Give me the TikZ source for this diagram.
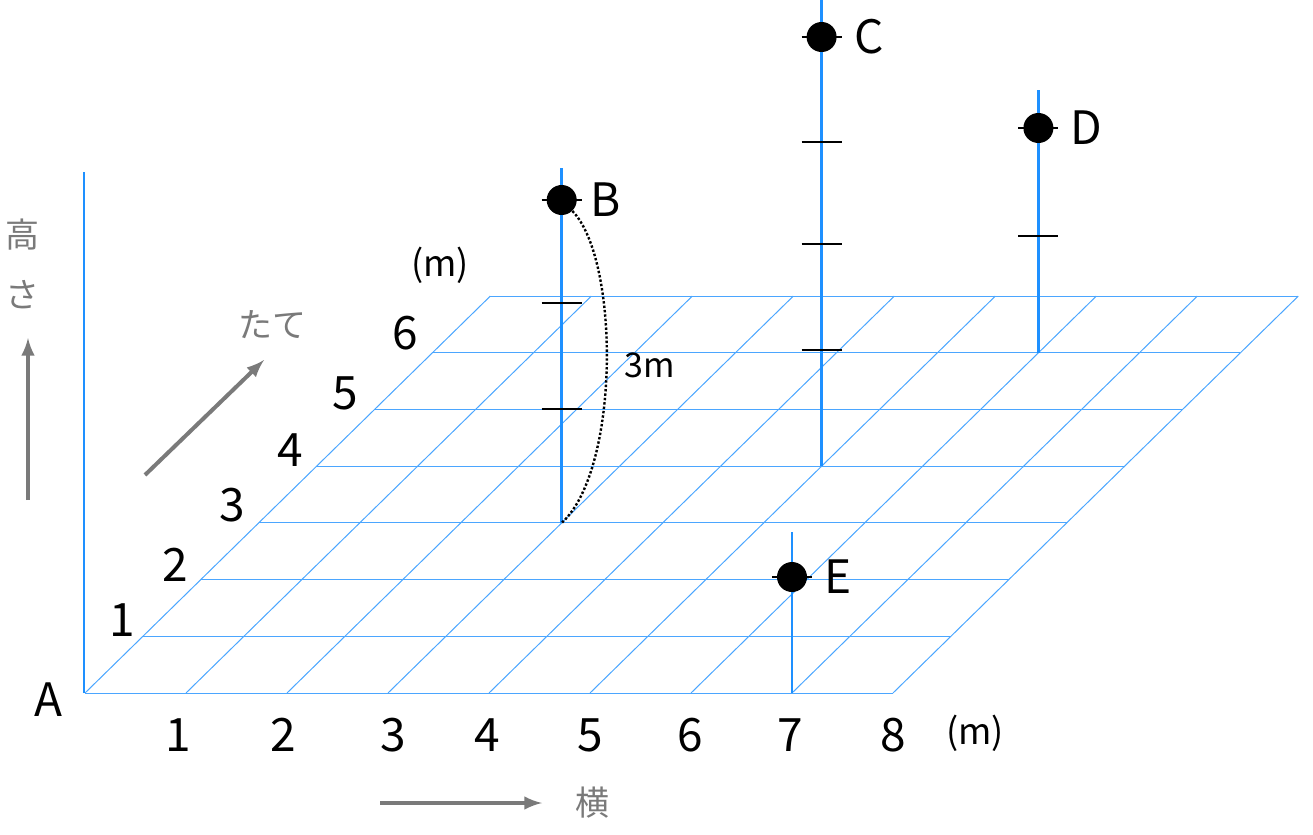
\documentclass[tikz,border=0pt]{standalone}
\usepackage{fontspec}
\setmainfont{Noto Sans CJK JP}
\usetikzlibrary{positioning}
\definecolor{gridBlue}{HTML}{1E90FF}
\definecolor{arrowGray}{HTML}{7A7A7A}
\tikzstyle{gridLine}=[draw=gridBlue!80, line width=0.5pt]
\tikzstyle{pole}=[draw=gridBlue, line width=1.3pt]
\tikzstyle{tick}=[black, line width=1.3pt]
\tikzstyle{pointDot}=[circle, fill=black, minimum size=15pt, inner sep=0pt]
\tikzstyle{bigLabel}=[font=\fontsize{23}{26}\selectfont, inner sep=0pt]
\tikzstyle{grayLabel}=[font=\fontsize{17}{20}\selectfont, text=arrowGray, inner sep=0pt]
\tikzstyle{grayArrow}=[-latex, arrowGray, line width=2pt]
% floor point (x, depth), in pixels of the picture
\newcommand{\fl}[2]{({85+101*#1+57.9*#2}, {693-56.7*#2})}

\begin{document}
\begin{tikzpicture}[x=0.5pt, y=-0.5pt]
    \useasboundingbox (0,0) rectangle (1313,835);

    % floor grid
    \foreach \r in {0,...,7}
        \draw[gridLine] \fl{0}{\r} -- \fl{8}{\r};
    \foreach \c in {0,...,8}
        \draw[gridLine] \fl{\c}{0} -- \fl{\c}{7};

    % height axis at A
    \coordinate (a0) at (84,693);
    \coordinate (a1) at (84,172);
    \draw[pole] (a0) -- (a1);
    \node[bigLabel] (lA) at (48,700) {A};

    % poles
    \coordinate (b0) at (561.7,522.9);
    \coordinate (b1) at (561.7,168);
    \coordinate (c0) at (821.6,466.2);
    \coordinate (c1) at (821.6,0);
    \coordinate (d0) at (1038.4,352.8);
    \coordinate (d1) at (1038.4,90);
    \coordinate (e0) at (792,693);
    \coordinate (e1) at (792,532);
    \draw[pole] (b0) -- (b1);
    \draw[pole] (c0) -- (c1);
    \draw[pole] (d0) -- (d1);
    \draw[pole] (e0) -- (e1);

    % ticks
    \foreach \x/\y in {561.7/409, 561.7/303, 561.7/200, 821.6/350, 821.6/244, 821.6/142, 821.6/37, 1038.4/236, 1038.4/128, 792/577}
        \draw[tick] (\x-20,\y) -- (\x+20,\y);

    % points
    \node[pointDot] (B) at (561.7,200) {};
    \node[pointDot] (C) at (821.6,37) {};
    \node[pointDot] (D) at (1038.4,128) {};
    \node[pointDot] (E) at (792,577) {};
    \node[bigLabel, right=14pt of B.center] (lB) {B};
    \node[bigLabel, right=16pt of C.center] (lC) {C};
    \node[bigLabel, right=16pt of D.center] (lD) {D};
    \node[bigLabel, right=16pt of E.center] (lE) {E};

    % 3m arc
    \draw[densely dotted, line width=1.2pt] (B) .. controls (620,260) and (620,470) .. (b0);
    \node[font=\fontsize{17}{20}\selectfont] (l3m) at (650,365) {3m};

    % axis numbers
    \foreach \n/\x in {1/178, 2/283, 3/393, 4/487, 5/590, 6/690, 7/790, 8/893}
        \node[bigLabel] (x\n) at (\x,735) {\n};
    \node[font=\fontsize{18}{20}\selectfont] (xm) at (975,733) {(m)};
    \foreach \n/\x/\y in {1/122/620, 2/175/565, 3/232/505, 4/290/450, 5/345/393, 6/405/333}
        \node[bigLabel] (y\n) at (\x,\y) {\n};
    \node[font=\fontsize{18}{20}\selectfont] (ym) at (440,265) {(m)};

    % direction arrows
    \coordinate (h0) at (28,500);
    \coordinate (h1) at (28,338);
    \draw[grayArrow] (h0) -- (h1);
    \node[grayLabel] (lH1) at (22,235) {高};
    \node[grayLabel] (lH2) at (22,295) {さ};
    \coordinate (t0) at (145,475);
    \coordinate (t1) at (264,360);
    \draw[grayArrow] (t0) -- (t1);
    \node[grayLabel] (lT) at (272,325) {たて};
    \coordinate (w0) at (380,803);
    \coordinate (w1) at (542,803);
    \draw[grayArrow] (w0) -- (w1);
    \node[grayLabel] (lW) at (592,803) {横};
\end{tikzpicture}
\end{document}
